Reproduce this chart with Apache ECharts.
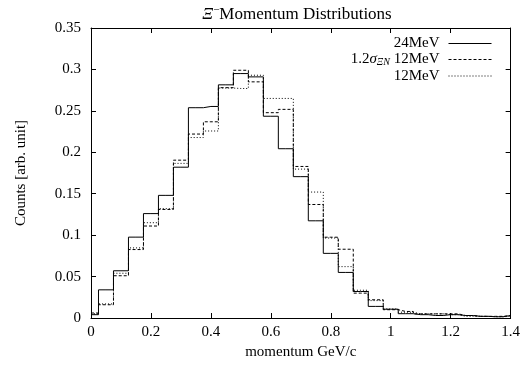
<!DOCTYPE html>
<html>
<head>
<meta charset="utf-8">
<script src="https://cdn.jsdelivr.net/npm/echarts@6/dist/echarts.min.js"></script>
<style>
  html, body { margin: 0; padding: 0; background: #fff; }
  #main { width: 523px; height: 365px; }
</style>
</head>
<body>
<div id="main"></div>
<script>
// bin centres (GeV/c)
var momentum = [0, 0.05, 0.1, 0.15, 0.2, 0.25, 0.3, 0.35, 0.4, 0.45, 0.5, 0.55, 0.6, 0.65, 0.7,
                0.75, 0.8, 0.85, 0.9, 0.95, 1.0, 1.05, 1.1, 1.15, 1.2, 1.25, 1.3, 1.35, 1.4];
// 24MeV
var counts24 = [0.004, 0.034, 0.057, 0.0976, 0.126, 0.148, 0.182, 0.2538, 0.2553, 0.2814, 0.295, 0.291, 0.2435, 0.2043, 0.1706,
                0.1173, 0.078, 0.055, 0.032, 0.014, 0.0106, 0.0052, 0.004, 0.003, 0.004, 0.003, 0.002, 0.0015, 0.003];
// 1.2 sigma 12MeV
var counts12s = [0.006, 0.016, 0.051, 0.0826, 0.111, 0.131, 0.1905, 0.222, 0.2368, 0.278, 0.299, 0.285, 0.2478, 0.2518, 0.1829,
                 0.137, 0.0975, 0.083, 0.030, 0.022, 0.010, 0.0079, 0.005, 0.005, 0.005, 0.003, 0.002, 0.002, 0.003];
// 12MeV
var counts12 = [0.005, 0.017, 0.054, 0.0846, 0.115, 0.132, 0.1866, 0.2178, 0.2257, 0.2775, 0.277, 0.293, 0.265, 0.265, 0.1797,
                0.152, 0.0965, 0.062, 0.0335, 0.021, 0.011, 0.007, 0.005, 0.005, 0.004, 0.002, 0.002, 0.0015, 0.002];

var names = ['24MeV', '1.2σΞN 12MeV', '12MeV'];

var font = 'Liberation Serif';

function pairs(vals) {
    return momentum.map(function (x, i) { return [x, vals[i]]; });
}

function axisCommon(pos, showLabel) {
    return {
        type: 'value',
        position: pos,
        axisLine: { show: true, onZero: false, lineStyle: { color: '#000', width: 1 } },
        axisTick: { show: true, inside: true, length: 5, lineStyle: { color: '#000' } },
        axisLabel: { show: showLabel, color: '#000', fontFamily: font, fontSize: 15 },
        splitLine: { show: false }
    };
}

var chart = echarts.init(document.getElementById('main'));

var xb = axisCommon('bottom', true);
xb.min = 0; xb.max = 1.4; xb.interval = 0.2;
xb.axisLabel.margin = 7;
xb.name = 'momentum GeV/c';
xb.nameLocation = 'middle';
xb.nameGap = 27;
xb.nameTextStyle = { color: '#000', fontFamily: font, fontSize: 15 };

var xt = axisCommon('top', false);
xt.min = 0; xt.max = 1.4; xt.interval = 0.2;

var yl = axisCommon('left', true);
yl.min = 0; yl.max = 0.35; yl.interval = 0.05;
yl.axisLabel.margin = 10;
yl.name = 'Counts [arb. unit]';
yl.nameLocation = 'middle';
yl.nameGap = 62;
yl.nameTextStyle = { color: '#000', fontFamily: font, fontSize: 15 };

var yr = axisCommon('right', false);
yr.min = 0; yr.max = 0.35; yr.interval = 0.05;

function histSeries(name, vals, dash) {
    return {
        name: name,
        type: 'line',
        step: 'middle',
        symbol: 'none',
        xAxisIndex: 0,
        yAxisIndex: 0,
        data: pairs(vals),
        lineStyle: { color: '#000', width: 1, type: dash },
        itemStyle: { color: '#000' }
    };
}

chart.setOption({
    animation: false,
    title: {
        text: '{xi|Ξ}{sup|−}{t|Momentum Distributions}',
        left: 292,
        top: 0,
        textAlign: 'center',
        textStyle: {
            fontWeight: 'normal',
            rich: {
                xi: { fontFamily: font, fontStyle: 'italic', fontWeight: 'normal', fontSize: 17, color: '#000' },
                sup: { fontFamily: font, fontWeight: 'normal', fontSize: 11, color: '#000', verticalAlign: 'top', padding: [0, 0, 9, 0] },
                t: { fontFamily: font, fontWeight: 'normal', fontSize: 17, color: '#000' }
            }
        }
    },
    grid: { left: 91, right: 11, top: 28, bottom: 40, containLabel: false },
    legend: {
        orient: 'vertical',
        right: 26,
        top: 31,
        align: 'right',
        itemWidth: 43,
        itemHeight: 14,
        itemGap: 1,
        data: names,
        itemStyle: { opacity: 0, borderWidth: 0 },
        lineStyle: { width: 1 },
        formatter: function (n) {
            if (n === names[1]) return '1.2{s|σ}{sub|ΞN} 12MeV';
            return n;
        },
        textStyle: {
            color: '#000', fontFamily: font, fontSize: 15, padding: [0, 4, 0, 0],
            rich: {
                s: { fontFamily: font, fontStyle: 'italic', fontSize: 15, color: '#000' },
                sub: { fontFamily: font, fontStyle: 'italic', fontSize: 10, color: '#000', padding: [6, 0, 0, 0] }
            }
        }
    },
    xAxis: [xb, xt],
    yAxis: [yl, yr],
    series: [
        histSeries(names[0], counts24, 'solid'),
        histSeries(names[1], counts12s, [3, 2]),
        histSeries(names[2], counts12, [1, 2])
    ]
});
</script>
</body>
</html>
